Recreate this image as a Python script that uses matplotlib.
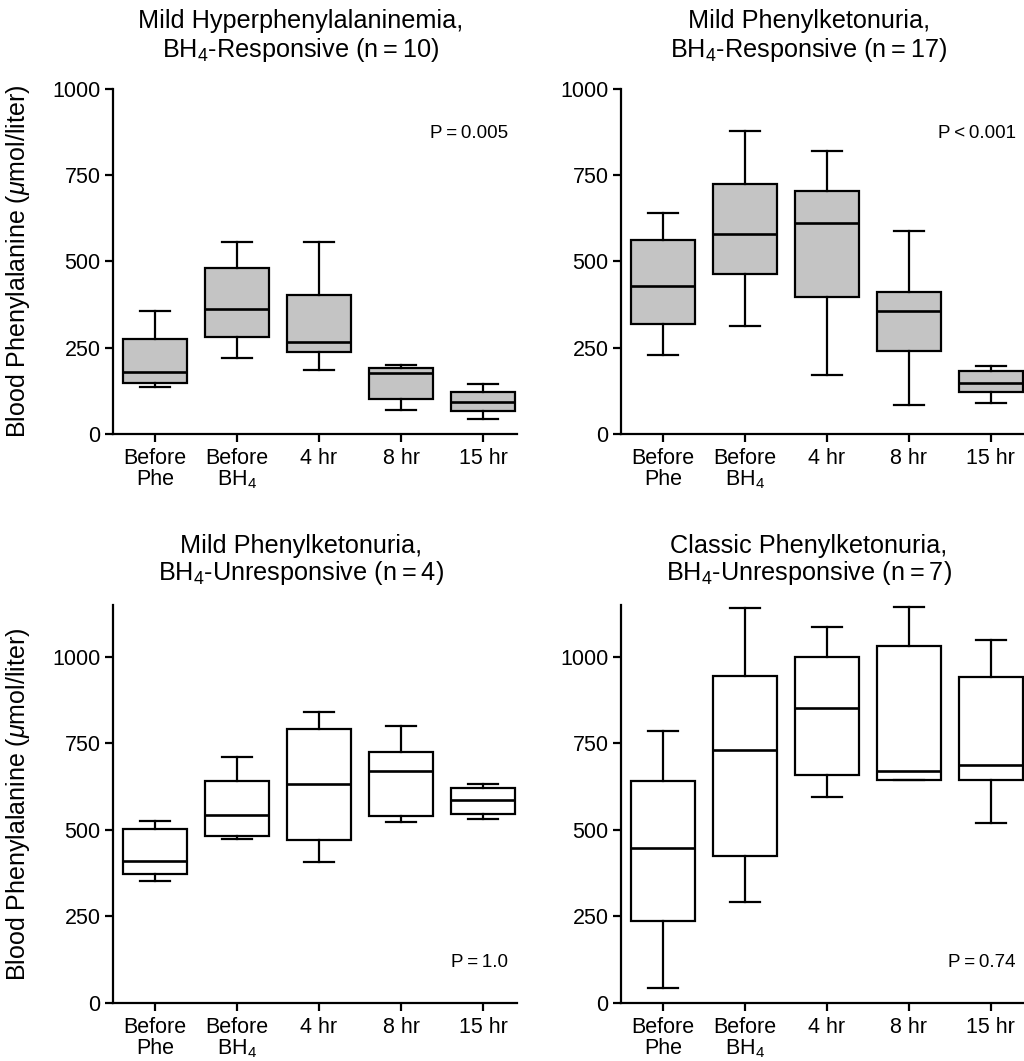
import matplotlib
matplotlib.use("Agg")
import matplotlib.pyplot as plt

plt.rcParams['font.family'] = ['Liberation Sans', 'DejaVu Sans']
plt.rcParams['mathtext.fontset'] = 'custom'
plt.rcParams['mathtext.rm'] = 'Liberation Sans'
plt.rcParams['mathtext.it'] = 'Liberation Sans:italic'

# x categories
categories = ["Before\nPhe", "Before\nBH$_4$", "4 hr", "8 hr", "15 hr"]

# mild hyperphenylalaninemia, BH4-responsive (n=10)
hpa_low = [137, 220, 186, 70, 42]
hpa_q1 = [148, 281, 237, 100, 66]
hpa_med = [179, 361, 266, 177, 92]
hpa_q3 = [275, 481, 403, 192, 122]
hpa_high = [355, 555, 556, 200, 146]

# mild PKU, BH4-responsive (n=17)
mild_resp_low = [229, 314, 170, 83, 89]
mild_resp_q1 = [318, 465, 397, 239, 123]
mild_resp_med = [428, 579, 612, 355, 148]
mild_resp_q3 = [563, 724, 705, 411, 183]
mild_resp_high = [639, 879, 820, 588, 196]

# mild PKU, BH4-unresponsive (n=4)
mild_unresp_low = [353, 473, 408, 523, 531]
mild_unresp_q1 = [372, 483, 471, 540, 546]
mild_unresp_med = [411, 542, 632, 670, 587]
mild_unresp_q3 = [503, 642, 792, 726, 620]
mild_unresp_high = [527, 712, 842, 800, 632]

# classic PKU, BH4-unresponsive (n=7)
classic_low = [42, 292, 594, 644, 521]
classic_q1 = [237, 425, 658, 644, 645]
classic_med = [447, 731, 853, 669, 687]
classic_q3 = [640, 946, 1001, 1031, 941]
classic_high = [785, 1140, 1087, 1143, 1049]

ts = "\u2009"  # thin space around = and <
titles = [
    ("Mild Hyperphenylalaninemia,", f"BH$_4$-Responsive (n{ts}={ts}10)"),
    ("Mild Phenylketonuria,", f"BH$_4$-Responsive (n{ts}={ts}17)"),
    ("Mild Phenylketonuria,", f"BH$_4$-Unresponsive (n{ts}={ts}4)"),
    ("Classic Phenylketonuria,", f"BH$_4$-Unresponsive (n{ts}={ts}7)"),
]
p_values = [f"P{ts}={ts}0.005", f"P{ts}<{ts}0.001", f"P{ts}={ts}1.0", f"P{ts}={ts}0.74"]


def make_stats(low, q1, med, q3, high):
    return [dict(whislo=a, q1=b, med=c, q3=d, whishi=e, fliers=[])
            for a, b, c, d, e in zip(low, q1, med, q3, high)]


panels = [
    make_stats(hpa_low, hpa_q1, hpa_med, hpa_q3, hpa_high),
    make_stats(mild_resp_low, mild_resp_q1, mild_resp_med, mild_resp_q3, mild_resp_high),
    make_stats(mild_unresp_low, mild_unresp_q1, mild_unresp_med, mild_unresp_q3, mild_unresp_high),
    make_stats(classic_low, classic_q1, classic_med, classic_q3, classic_high),
]

fig = plt.figure(figsize=(10.24, 10.61), dpi=100)

rects = [
    [0.1104, 0.5910, 0.3945, 0.3252],
    [0.6064, 0.5910, 0.3945, 0.3252],
    [0.1104, 0.0547, 0.3945, 0.3751],
    [0.6064, 0.0547, 0.3945, 0.3751],
]
title_x = [0.294, 0.790, 0.294, 0.790]
lw = 1.6

for i, stats in enumerate(panels):
    ax = fig.add_axes(rects[i])
    top_row = i < 2
    fill = '#c4c4c4' if top_row else 'white'
    ax.bxp(stats, positions=range(1, 6), widths=0.78, capwidths=0.37,
           patch_artist=True, showfliers=False,
           boxprops=dict(facecolor=fill, edgecolor='black', linewidth=lw),
           medianprops=dict(color='black', linewidth=lw + 0.3),
           whiskerprops=dict(color='black', linewidth=lw),
           capprops=dict(color='black', linewidth=lw))
    ax.set_xlim(0.488, 5.415)
    ax.set_ylim(0, 1000 if top_row else 1150)
    ax.set_yticks([0, 250, 500, 750, 1000])
    ax.set_xticks(range(1, 6))
    ax.set_xticklabels(categories, linespacing=1.0)
    ax.spines['top'].set_visible(False)
    ax.spines['right'].set_visible(False)
    ax.spines['left'].set_linewidth(lw)
    ax.spines['bottom'].set_linewidth(lw)
    ax.tick_params(axis='both', direction='out', length=6, width=lw, labelsize=15.5)
    ax.tick_params(axis='x', pad=4)
    ax.tick_params(axis='y', pad=3)
    if i % 2 == 0:
        ax.set_ylabel(r"Blood Phenylalanine ($\mu$mol/liter)", fontsize=18)
        ax.yaxis.set_label_coords(-0.20, 0.5)

    # P value
    ax.text(0.977, 0.858 if top_row else 0.09, p_values[i], transform=ax.transAxes,
            ha='right', va='baseline', fontsize=13.5)

    # two-line title
    if top_row:
        y1, y2 = 1 - 28 / 1061, 1 - 57 / 1061
    else:
        y1, y2 = 1 - 553 / 1061, 1 - 580 / 1061
    fig.text(title_x[i], y1, titles[i][0], ha='center', va='baseline', fontsize=18.2)
    fig.text(title_x[i], y2, titles[i][1], ha='center', va='baseline', fontsize=18.2)

fig.savefig('out.png', dpi=100)
